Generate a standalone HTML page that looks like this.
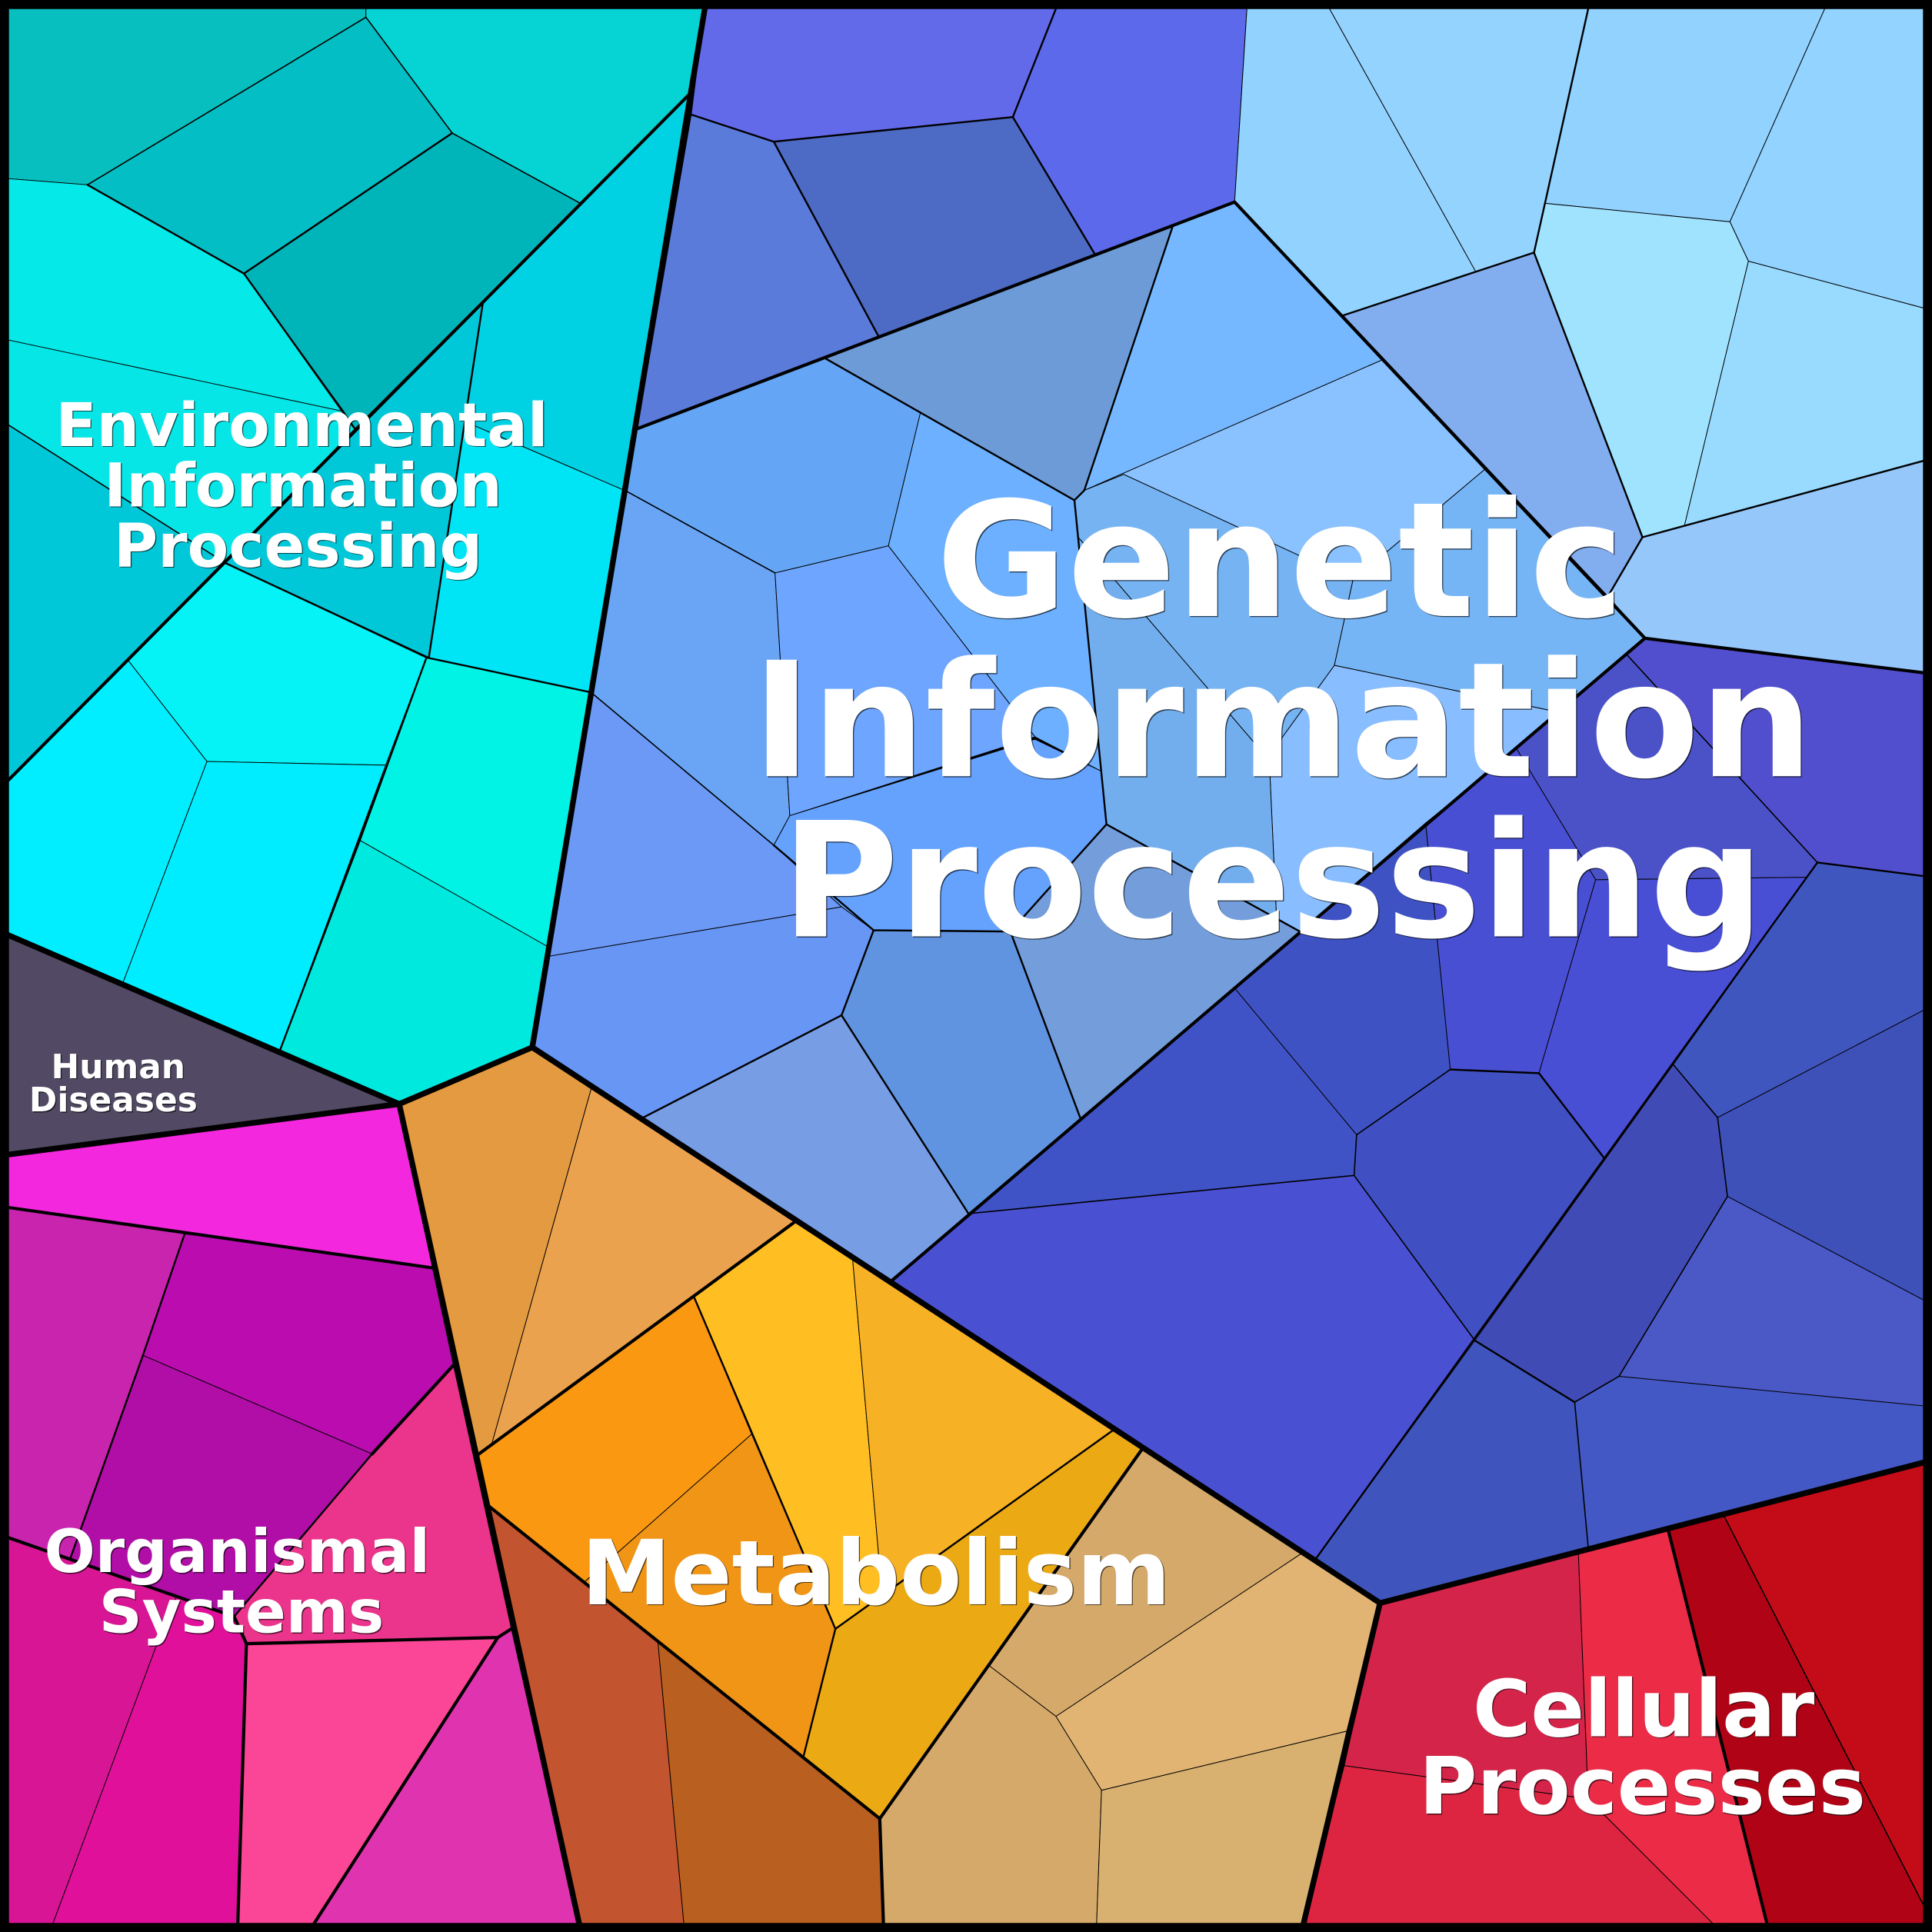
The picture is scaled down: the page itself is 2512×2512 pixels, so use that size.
<!DOCTYPE html>
<html><head><meta charset="utf-8"><style>
html,body{margin:0;padding:0;background:#000;width:2512px;height:2512px;overflow:hidden}
svg{display:block}
polygon{stroke:#000;stroke-width:.6;stroke-linejoin:round}
.a,.b,.c,.d{fill:none;stroke:#000;stroke-linejoin:round;stroke-linecap:round}
.a{stroke-width:4.6}.b{stroke-width:2.6}.c{stroke-width:1.5}.d{stroke-width:1}
text{font-family:"DejaVu Sans","Liberation Sans",sans-serif;font-weight:bold;text-anchor:middle}
.w{fill:#fff}.s{fill:#000;fill-opacity:.65}
</style></head><body>
<svg width="2512" height="2512" viewBox="0 0 1568 1568" xmlns="http://www.w3.org/2000/svg">
<rect width="1568" height="1568" fill="#000"/>
<!-- Environmental -->
<polygon fill="#08bfbf" points="7,7 297,7 297,14 71,150 7,145"/>
<polygon fill="#06d3d3" points="297,7 572,7 560,76 471,165 367,108 297,14"/>
<polygon fill="#03bfc5" points="297,14 367,108 198,222 71,150"/>
<polygon fill="#00b5ba" points="367,108 471,165 288,348 279,334 198,222"/>
<polygon fill="#05e9e9" points="7,145 71,150 198,222 279,334 7,276"/>
<polygon fill="#07e6e6" points="7,276 279,334 288,348 183,457 7,345"/>
<polygon fill="#00c8d8" points="7,345 183,457 7,633"/>
<polygon fill="#00d2e4" points="560,76 392,245 377,342 509,399"/>
<polygon fill="#01c8d8" points="392,245 348,534 183,457"/>
<polygon fill="#00e5f5" points="377,342 509,399 480,562 348,534"/>
<polygon fill="#05f3f7" points="183,457 346,534 313,621 168,618 104,536"/>
<polygon fill="#00eeff" points="7,633 104,536 168,618 100,797 7,759"/>
<polygon fill="#00edff" points="168,618 313,621 227,853 100,797"/>
<polygon fill="#01f3e5" points="346,534 480,562 444,768 292,682 313,621"/>
<polygon fill="#00e9df" points="292,682 444,768 432,850 324,896 227,853"/>
<!-- Human -->
<polygon fill="#524a64" points="7,759 324,896 7,937"/>
<!-- Organismal -->
<polygon fill="#f327de" points="7,937 324,898 351,1029 150,1001 7,980"/>
<polygon fill="#c924ae" points="7,980 150,1001 116,1100 57,1265 7,1248"/>
<polygon fill="#bb0cb0" points="150,1001 351,1029 368,1108 302,1180 116,1100"/>
<polygon fill="#b00ea6" points="116,1100 302,1180 190,1312 57,1265"/>
<polygon fill="#eb348c" points="368,1108 415,1322 404,1329 200,1334 190,1312 302,1180"/>
<polygon fill="#fb4596" points="200,1334 404,1329 255,1561 193,1561"/>
<polygon fill="#e033b0" points="404,1329 415,1322 469,1561 255,1561"/>
<polygon fill="#d81594" points="7,1248 143,1296 129,1330 43,1561 7,1561"/>
<polygon fill="#e0109a" points="143,1296 190,1312 200,1334 193,1561 43,1561 129,1330"/>
<!-- Metabolism -->
<polygon fill="#e39a40" points="324,896 432,850 480,883 398,1176 386,1182"/>
<polygon fill="#eba24e" points="480,883 646,991 386,1182 398,1176"/>
<polygon fill="#fa9812" points="386,1182 563,1052 610,1164 472,1286 395,1221"/>
<polygon fill="#f09515" points="610,1164 678,1322 652,1426 472,1286"/>
<polygon fill="#ffbe22" points="563,1052 646,991 692,1022 716,1295 678,1322"/>
<polygon fill="#f7b125" points="692,1022 904,1160 716,1295"/>
<polygon fill="#eba914" points="903,1161 927,1176 714,1476 652,1426 678,1322"/>
<polygon fill="#c25430" points="395,1221 534,1333 555,1561 469,1561"/>
<polygon fill="#b95f20" points="534,1333 714,1476 717,1561 555,1561"/>
<polygon fill="#d5a96a" points="927,1176 1056,1261 857,1393 803,1352"/>
<polygon fill="#e1b473" points="1056,1261 1120,1301 1093,1405 894,1453 857,1393"/>
<polygon fill="#d5a96a" points="803,1352 857,1393 894,1453 890,1561 717,1561 714,1476"/>
<polygon fill="#d8b170" points="894,1453 1093,1405 1058,1561 890,1561"/>
<!-- Cellular -->
<polygon fill="#d5244a" points="1120,1301 1281,1260 1289,1460 1091,1433"/>
<polygon fill="#ec2b47" points="1281,1260 1354,1242 1434,1561 1390,1561 1289,1460"/>
<polygon fill="#dd2542" points="1091,1433 1289,1460 1390,1561 1058,1561"/>
<polygon fill="#b10316" points="1354,1242 1399,1230 1561,1546 1561,1561 1434,1561"/>
<polygon fill="#c40c18" points="1399,1230 1561,1187 1561,1546"/>
<!-- Genetic top -->
<polygon fill="#626aea" points="572,7 857,7 822,95 628,115 561,93"/>
<polygon fill="#5b69ea" points="857,7 1012,7 1002,164 889,207 822,95"/>
<polygon fill="#5a7bda" points="561,93 628,115 713,273 517,348"/>
<polygon fill="#4d6ac4" points="628,115 822,95 889,207 713,273"/>
<polygon fill="#6d9bd8" points="670,291 952,183 880,398 872,406 747,335"/>
<polygon fill="#76b8ff" points="952,183 1002,164 1122,292 880,398"/>
<polygon fill="#92d2ff" points="1012,7 1079,7 1198,221 1090,256 1002,164"/>
<polygon fill="#95d3ff" points="1079,7 1289,7 1245,205 1198,221"/>
<polygon fill="#82aeef" points="1090,256 1245,205 1333,436 1305,484"/>
<polygon fill="#91d2ff" points="1289,7 1481,7 1404,180 1254,165"/>
<polygon fill="#92d3ff" points="1481,7 1561,7 1561,250 1419,212 1404,180"/>
<polygon fill="#a0e3ff" points="1254,165 1404,180 1419,212 1367,427 1333,436 1245,205"/>
<polygon fill="#98dbff" points="1419,212 1561,250 1561,374 1367,427"/>
<polygon fill="#95c7fb" points="1333,436 1561,374 1561,546 1335,518 1305,484"/>
<!-- Genetic mid -->
<polygon fill="#64a6f5" points="517,348 670,291 747,335 721,443 629,465 509,399"/>
<polygon fill="#69a4f5" points="509,399 629,465 641,662 628,686 481,563"/>
<polygon fill="#6cb0ff" points="747,335 872,406 894,626 840,598 721,443"/>
<polygon fill="#6ea6ff" points="629,465 721,443 840,598 641,662"/>
<polygon fill="#64a2fe" points="641,662 840,600 894,626 898,669 820,756 709,755 683,736 628,686"/>
<polygon fill="#6b99f5" points="481,563 628,686 683,736 446,776"/>
<polygon fill="#6796f5" points="446,776 683,736 709,755 683,824 522,907 432,850"/>
<polygon fill="#779de5" points="522,907 683,824 786,985 723,1040"/>
<polygon fill="#6194e0" points="683,824 709,755 820,756 877,908 786,985"/>
<polygon fill="#739ddb" points="820,756 898,669 1055,756 877,908"/>
<polygon fill="#89c2ff" points="880,398 1122,292 1205,381 1098,471 912,385"/>
<polygon fill="#76b3f3" points="880,398 912,385 1098,471 1083,540 1041,598 1030,614 1019,604 875,436 872,406"/>
<polygon fill="#76b5f5" points="1205,381 1335,518 1265,578 1083,540 1098,471"/>
<polygon fill="#88bdff" points="1083,540 1265,578 1055,756 1036,745 1030,614 1041,598"/>
<polygon fill="#72aeee" points="875,436 1019,604 1030,614 1036,745 1055,756 898,669"/>
<!-- Purple lower -->
<polygon fill="#524fcf" points="1335,518 1561,546 1561,711 1475,700 1320,531"/>
<polygon fill="#4b52c8" points="1320,531 1475,700 1466,712 1295,714 1231,608"/>
<polygon fill="#484fd2" points="1231,608 1295,714 1249,871 1177,868 1157,668"/>
<polygon fill="#484fd5" points="1295,714 1466,712 1302,940 1249,871"/>
<polygon fill="#3f52c3" points="1157,668 1177,868 1101,921 1002,802"/>
<polygon fill="#4053c6" points="1002,802 1101,921 1099,954 786,985"/>
<polygon fill="#4050c2" points="1101,921 1177,868 1249,871 1302,940 1197,1088 1099,954"/>
<polygon fill="#4a50d2" points="786,985 1099,954 1197,1088 1068,1265 723,1040"/>
<polygon fill="#4056bf" points="1475,700 1561,711 1561,820 1394,907 1358,864"/>
<polygon fill="#3e51b9" points="1394,907 1561,820 1561,1055 1402,971"/>
<polygon fill="#414bb6" points="1358,864 1394,907 1402,971 1314,1117 1278,1138 1197,1088"/>
<polygon fill="#4b59c6" points="1402,971 1561,1055 1561,1141 1314,1117"/>
<polygon fill="#3f55bd" points="1197,1088 1278,1138 1289,1256 1120,1301 1068,1265"/>
<polygon fill="#4358c4" points="1278,1138 1314,1117 1561,1141 1561,1187 1289,1256"/>
<!-- light medium lines -->
<path class="d" d="M71,150L297,14L367,108L471,165M7,345L183,457M509,399L629,465M481,563L628,686M1399,1230L1561,1546M1099,954L786,985M1099,954L1197,1088M1099,954L1101,921L1177,868M1358,864L1394,907L1402,971L1314,1117L1278,1138M1278,1138L1289,1256M1320,531L1475,700"/>
<!-- level 2 lines -->
<path class="c" d="M71,150L198,222L367,108M198,222L288,348M392,245L348,534M183,457L348,534L480,562M346,534L292,682L227,853
M302,1180L190,1312M116,1100L57,1265M150,1001L116,1100
M563,1052L678,1322L652,1426M903,1161L678,1322
M628,115L822,95L889,207M628,115L713,273M561,93L628,115M822,95L857,7
M1090,256L1245,205L1333,436L1305,484M1245,205L1289,7M1333,436L1561,374
M670,291L872,406L880,398L952,183M872,406L898,669L820,756L709,755L628,686M709,755L683,824L522,907M683,824L786,985M820,756L877,908M898,669L1055,756
M1475,700L1561,711M1475,700L1068,1265M1177,868L1249,871L1302,940M1197,1088L1278,1138"/>
<!-- level 1 lines -->
<path class="b" d="M7,633L560,76M7,1248L190,1312L200,1334L404,1329L415,1322M200,1334L193,1561M404,1329L255,1561M368,1108L302,1180M7,980L351,1029
M646,991L386,1182M395,1221L714,1476L927,1176M714,1476L717,1561
M1354,1242L1434,1561
M517,348L1002,164L1335,518L1561,546M1335,518L723,1040"/>
<!-- top-level boundaries -->
<path class="a" d="M572,7L432,850M432,850L1120,1301L1561,1187M7,937L324,896M7,759L324,896L432,850M324,896L470,1561M1120,1301L1058,1561"/>
<rect x="3.5" y="3.5" width="1561" height="1561" fill="none" stroke="#000" stroke-width="7"/>
<!-- labels -->
<g class="s" transform="translate(.8,.8)">
<text font-size="129.8" x="1039" y="500">Genetic</text><text font-size="129.8" x="1041" y="630">Information</text><text font-size="129.8" x="1033" y="760">Processing</text>
<text font-size="48.7" x="245" y="362">Environmental</text><text font-size="48.7" x="246" y="411">Information</text><text font-size="48.7" x="242" y="460">Processing</text>
<text font-size="27.4" x="96" y="875">Human</text><text font-size="27.4" x="92" y="902">Diseases</text>
<text font-size="48.6" x="192.5" y="1276">Organismal</text><text font-size="48.6" x="196" y="1325">Systems</text>
<text font-size="73" x="711" y="1302">Metabolism</text>
<text font-size="64.2" x="1334" y="1409">Cellular</text><text font-size="64.2" x="1333" y="1472">Processes</text>
</g>
<g class="w">
<text font-size="129.8" x="1039" y="500">Genetic</text><text font-size="129.8" x="1041" y="630">Information</text><text font-size="129.8" x="1033" y="760">Processing</text>
<text font-size="48.7" x="245" y="362">Environmental</text><text font-size="48.7" x="246" y="411">Information</text><text font-size="48.7" x="242" y="460">Processing</text>
<text font-size="27.4" x="96" y="875">Human</text><text font-size="27.4" x="92" y="902">Diseases</text>
<text font-size="48.6" x="192.5" y="1276">Organismal</text><text font-size="48.6" x="196" y="1325">Systems</text>
<text font-size="73" x="711" y="1302">Metabolism</text>
<text font-size="64.2" x="1334" y="1409">Cellular</text><text font-size="64.2" x="1333" y="1472">Processes</text>
</g>
</svg>
</body></html>
